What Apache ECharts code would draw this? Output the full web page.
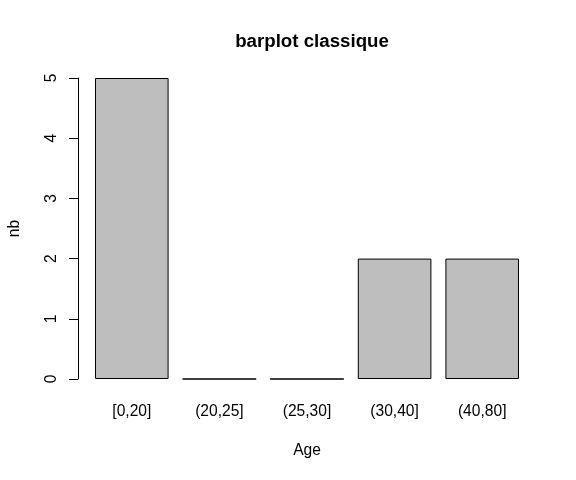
<!DOCTYPE html>
<html><head><meta charset="utf-8">
<script src="https://cdn.jsdelivr.net/npm/echarts@6/dist/echarts.min.js"></script>
<style>html,body{margin:0;padding:0;background:#fff}#c{width:576px;height:480px}</style>
</head><body><div id="c"></div>
<script>
const categories = ['[0,20]', '(20,25]', '(25,30]', '(30,40]', '(40,80]'];
const counts = [5, 0, 0, 2, 2];
const yTicks = [0, 1, 2, 3, 4, 5];

const chart = echarts.init(document.getElementById('c'), null, {renderer: 'canvas'});
const font = 'Liberation Sans, Arial, sans-serif';
chart.setOption({
  animation: false,
  backgroundColor: '#fff',
  title: {
    text: 'barplot classique', left: 307, top: 27, textAlign: 'center',
    textStyle: {fontFamily: font, fontSize: 18.7, fontWeight: 'bold', color: '#000'}
  },
  grid: {left: 88, right: 50, top: 78, bottom: 101, outerBoundsMode: 'none', containLabel: false},
  xAxis: {
    type: 'category', data: categories,
    name: 'Age', nameLocation: 'middle', nameGap: 64,
    nameTextStyle: {fontFamily: font, fontSize: 15.6, color: '#000'},
    axisLine: {show: false}, axisTick: {show: false},
    axisLabel: {fontFamily: font, fontSize: 15.6, color: '#000', margin: 25}
  },
  yAxis: {
    type: 'value', min: yTicks[0], max: yTicks[yTicks.length - 1], interval: 1,
    offset: 10,
    name: 'nb', nameLocation: 'middle', nameGap: 55, nameRotate: 90,
    nameTextStyle: {fontFamily: font, fontSize: 15.6, color: '#000'},
    axisLine: {show: true, lineStyle: {color: '#000', width: 1}},
    axisTick: {show: true, length: 9, lineStyle: {color: '#000'}},
    splitLine: {show: false},
    axisLabel: {fontFamily: font, fontSize: 15.6, color: '#000', rotate: 90, margin: 26,
      verticalAlign: 'middle', align: 'center'}
  },
  series: [{
    type: 'bar', data: counts, barWidth: '84%',
    itemStyle: {color: '#bebebe', borderColor: '#000', borderWidth: 1}
  }]
});
</script></body></html>
